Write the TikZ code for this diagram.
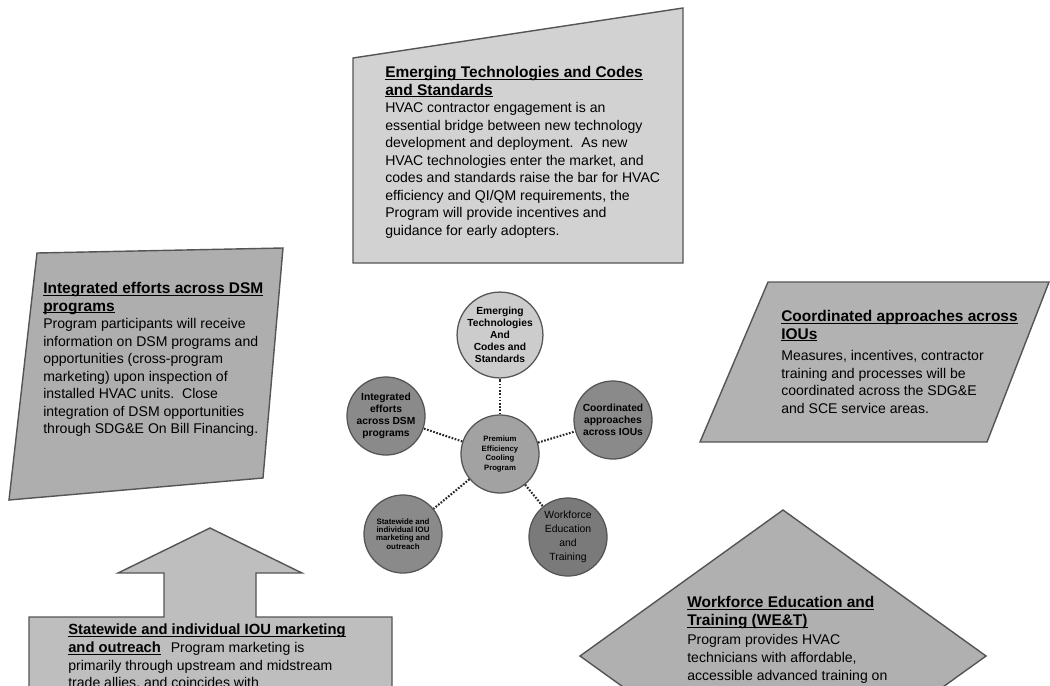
\documentclass[tikz,border=0pt]{standalone}
\usepackage{fontspec}
\setmainfont{Liberation Sans}
\newcommand\myul[2][11]{\setbox0=\hbox{\fontsize{#1}{12.45}\selectfont\bfseries #2}\rlap{\rule[-1.7pt]{\wd0}{0.8pt}}\box0}
\definecolor{edgec}{HTML}{555555}
\definecolor{boxA}{HTML}{D2D2D2}
\definecolor{boxB}{HTML}{AEAEAE}
\definecolor{boxC}{HTML}{B2B2B2}
\definecolor{boxD}{HTML}{BEBEBE}
\definecolor{boxE}{HTML}{B0B0B0}
\definecolor{cirL}{HTML}{CCCCCC}
\definecolor{cirM}{HTML}{A2A2A2}
\definecolor{cirD}{HTML}{8A8A8A}
\definecolor{cirW}{HTML}{7A7A7A}
\definecolor{dotc}{HTML}{2A2A2A}
\begin{document}
\begin{tikzpicture}[x=0.025cm,y=-0.025cm,
  shapebox/.style={draw=edgec,line width=1pt,line join=miter},
  txt/.style={anchor=north west,inner sep=0pt,align=left,font=\fontsize{10}{12.45}\selectfont},
  circ/.style={circle,draw=edgec,line width=0.9pt,inner sep=0pt,minimum size=1.95cm,align=center},
  smallb/.style={font=\fontsize{7.3}{8.6}\selectfont\bfseries},
  link/.style={draw=dotc,line width=1.5pt,dash pattern=on 1.2pt off 1.1pt}]
\clip (0,0) rectangle (1050,685);
\fill[white] (0,0) rectangle (1050,685);

% boxes
\draw[shapebox,fill=boxA] (353,58) -- (683,8) -- (683,263) -- (353,263) -- cycle;
\draw[shapebox,fill=boxB] (37,253) -- (283,248) -- (263,478) -- (9,500) -- cycle;
\draw[shapebox,fill=boxC] (768,282) -- (1049,282) -- (987,442) -- (700,442) -- cycle;
\draw[shapebox,fill=boxD] (29,617) -- (164,617) -- (164,573) -- (118,573) -- (210,528) -- (302,573) -- (256,573) -- (256,617) -- (392,617) -- (392,700) -- (29,700) -- cycle;
\draw[shapebox,fill=boxE] (783,510) -- (986,656) -- (783,802) -- (580,656) -- cycle;

% box texts
\node[txt] (emtext) at (385,66) {\myul{Emerging Technologies and Codes}\\\myul{and Standards}\\
HVAC contractor engagement is an\\
essential bridge between new technology\\
development and deployment.\ \ As new\\
HVAC technologies enter the market, and\\
codes and standards raise the bar for HVAC\\
efficiency and QI/QM requirements, the\\
Program will provide incentives and\\
guidance for early adopters.};

\node[txt] (intext) at (43,282) {\myul{Integrated efforts across DSM}\\\myul{programs}\\
Program participants will receive\\
information on DSM programs and\\
opportunities (cross-program\\
marketing) upon inspection of\\
installed HVAC units.\ \ Close\\
integration of DSM opportunities\\
through SDG\&E On Bill Financing.};

\node[txt] (cotext) at (781,310) {\myul{Coordinated approaches across}\\\myul{IOUs}\\[3pt]
Measures, incentives, contractor\\
training and processes will be\\
coordinated across the SDG\&E\\
and SCE service areas.};

\node[txt] (sttext) at (68,624) {\myul[10.5]{Statewide and individual IOU marketing}\\\myul[10.5]{and outreach}\hspace{0.7em}Program marketing is\\
primarily through upstream and midstream\\
trade allies, and coincides with};

\node[txt,font=\fontsize{10}{13}\selectfont] (wotext) at (687,596) {\myul{Workforce Education and}\\\myul{Training (WE\&T)}\\
Program provides HVAC\\
technicians with affordable,\\
accessible advanced training on};

% circles
\node[circ,fill=cirM,font=\fontsize{5.5}{7}\selectfont\bfseries] (center) at (500,454) {Premium\\Efficiency\\Cooling\\Program};
\node[circ,fill=cirL,smallb] (emc) at (500,335) {Emerging\\Technologies\\And\\Codes and\\Standards};
\node[circ,fill=cirD,smallb] (inc) at (386,416) {Integrated\\efforts\\across DSM\\programs};
\node[circ,fill=cirD,smallb] (coc) at (613,420) {Coordinated\\approaches\\across IOUs};
\node[circ,fill=cirD,font=\fontsize{5.6}{5.8}\selectfont\bfseries] (stc) at (403,534) {Statewide and\\individual IOU\\marketing and\\outreach};
\node[circ,fill=cirW,font=\fontsize{7.4}{10}\selectfont] (woc) at (568,537) {Workforce\\Education\\and\\Training};

% connectors
\draw[link] (center) -- (emc);
\draw[link] (center) -- (inc);
\draw[link] (center) -- (coc);
\draw[link] (center) -- (stc);
\draw[link] (center) -- (woc);
\end{tikzpicture}
\end{document}
